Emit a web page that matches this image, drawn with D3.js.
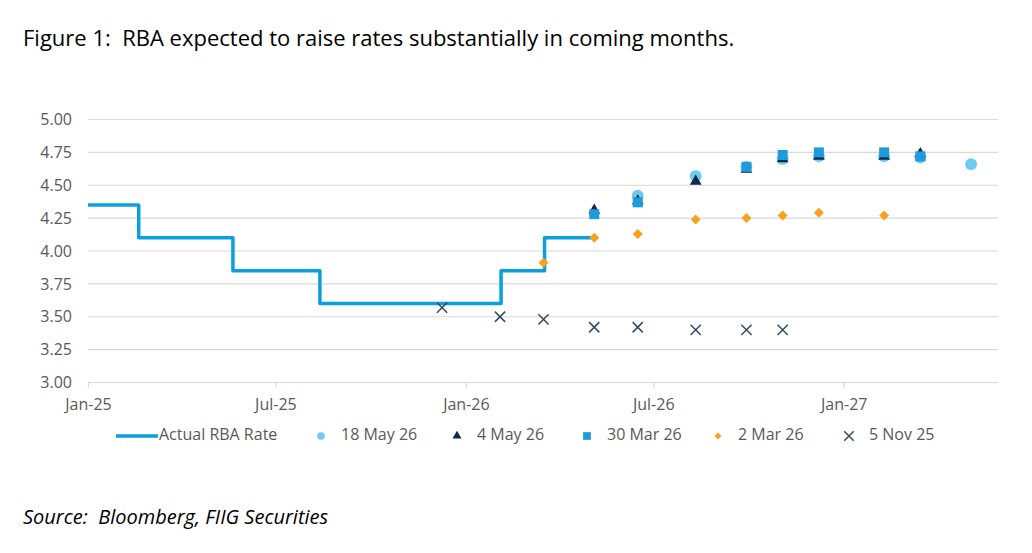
<!DOCTYPE html>
<html>
<meta charset="utf-8">
<style>
  body { margin: 0; background: #fff; }
  svg { display: block; }
  text { font-family: 'Open Sans', sans-serif; white-space: pre; }
</style>
<body>
<svg width="1032" height="553"></svg>
<script src="https://d3js.org/d3.v7.min.js"></script>
<script>
    // actual cash rate (step changes)
    let actualDates = ["2025-01-01", "2025-02-19", "2025-05-21", "2025-08-13", "2026-02-04", "2026-03-18", "2026-05-05"];
    let actualRates = [4.35, 4.10, 3.85, 3.60, 3.85, 4.10, 4.10];

    // market pricing at each meeting, by snapshot date
    let may18Dates = ["2026-06-16", "2026-08-11", "2026-09-29", "2026-11-03", "2026-12-08", "2027-02-09", "2027-03-16", "2027-05-04"];
    let may18Rates = [4.42, 4.57, 4.64, 4.70, 4.72, 4.72, 4.71, 4.66];

    let may4Dates = ["2026-05-05", "2026-06-16", "2026-08-11", "2026-09-29", "2026-11-03", "2026-12-08", "2027-02-09", "2027-03-16"];
    let may4Rates = [4.31, 4.38, 4.53, 4.62, 4.70, 4.72, 4.72, 4.74];

    let mar30Dates = ["2026-05-05", "2026-06-16", "2026-09-29", "2026-11-03", "2026-12-08", "2027-02-09", "2027-03-16"];
    let mar30Rates = [4.28, 4.37, 4.64, 4.73, 4.75, 4.75, 4.72];

    let mar2Dates = ["2026-03-17", "2026-05-05", "2026-06-16", "2026-08-11", "2026-09-29", "2026-11-03", "2026-12-08", "2027-02-09"];
    let mar2Rates = [3.91, 4.10, 4.13, 4.24, 4.25, 4.27, 4.29, 4.27];

    let nov5Dates = ["2025-12-09", "2026-02-03", "2026-03-17", "2026-05-05", "2026-06-16", "2026-08-11", "2026-09-29", "2026-11-03"];
    let nov5Rates = [3.57, 3.50, 3.48, 3.42, 3.42, 3.40, 3.40, 3.40];

    let yTicks = [3.00, 3.25, 3.50, 3.75, 4.00, 4.25, 4.50, 4.75, 5.00];
    let xTicks = ["2025-01-01", "2025-07-01", "2026-01-01", "2026-07-01", "2027-01-01"];

    let seriesNames = ["18 May 26", "4 May 26", "30 Mar 26", "2 Mar 26", "5 Nov 25"];

    let parse = d3.timeParse("%Y-%m-%d");
    let zip = (ds, vs) => ds.map((d, i) => ({date: parse(d), value: vs[i]}));

    let svg = d3.select("svg");

    let plotLeft = 88, plotRight = 998, plotTop = 119.5, plotBottom = 382.5;

    let xScale = d3.scaleTime()
        .domain([parse("2025-01-01"), parse("2027-05-30")])
        .range([plotLeft, plotRight]);
    let yScale = d3.scaleLinear()
        .domain([3, 5])
        .range([plotBottom, plotTop]);

    // title + source
    svg.append("text").attr("x", 23).attr("y", 46)
        .style("font-size", "22px").style("fill", "#000")
        .text("Figure 1:  RBA expected to raise rates substantially in coming months.");
    svg.append("text").attr("x", 23).attr("y", 524)
        .style("font-size", "20px").style("font-style", "italic").style("fill", "#000")
        .text("Source:  Bloomberg, FIIG Securities");

    // gridlines
    svg.append("g").selectAll("line")
        .data(yTicks.slice(1))
        .join("line")
        .attr("x1", plotLeft).attr("x2", plotRight)
        .attr("y1", d => yScale(d)).attr("y2", d => yScale(d))
        .style("stroke", "#d9d9d9").style("stroke-width", 1.2);

    // y axis labels
    let yAxis = svg.append("g")
        .attr("transform", "translate(" + plotLeft + ",0)")
        .call(d3.axisLeft(yScale).tickValues(yTicks).tickFormat(d3.format(".2f")).tickSize(0).tickPadding(16));
    yAxis.select(".domain").remove();

    // x axis
    let xAxis = svg.append("g")
        .attr("transform", "translate(0," + yScale(3) + ")")
        .call(d3.axisBottom(xScale).tickValues(xTicks.map(parse)).tickFormat(d3.timeFormat("%b-%y")).tickSize(5).tickPadding(11));
    xAxis.select(".domain").attr("d", "M" + plotLeft + ",0H" + plotRight).style("stroke", "#d9d9d9").style("stroke-width", 1.2);
    xAxis.selectAll(".tick line").style("stroke", "#d9d9d9").style("stroke-width", 1.2);

    svg.selectAll(".tick text")
        .attr("font-family", null)
        .style("font-family", "'Open Sans', sans-serif")
        .style("font-size", "16px")
        .style("fill", "#595959");

    // actual rate step line
    let stepLine = d3.line()
        .x(d => xScale(d.date))
        .y(d => yScale(d.value))
        .curve(d3.curveStepAfter);
    svg.append("path")
        .datum(zip(actualDates, actualRates))
        .attr("d", stepLine)
        .style("fill", "none").style("stroke", "#0aa0e0").style("stroke-width", 3.5)
        .style("stroke-linejoin", "round");

    let colors = {
        "18 May 26": "#6ccbef",
        "4 May 26": "#10294a",
        "30 Mar 26": "#1f9bdc",
        "2 Mar 26": "#f7a11c",
        "5 Nov 25": "#2f4c66"
    };

    let shapeType = {
        "18 May 26": d3.symbolCircle,
        "4 May 26": d3.symbolTriangle,
        "30 Mar 26": d3.symbolSquare,
        "2 Mar 26": d3.symbolSquare,   // rotated 45deg below
        "5 Nov 25": d3.symbolTimes
    };
    let shapeSize = {"18 May 26": 110, "4 May 26": 60, "30 Mar 26": 100, "2 Mar 26": 50, "5 Nov 25": 70};
    let legendSize = {"18 May 26": 45, "4 May 26": 35, "30 Mar 26": 60, "2 Mar 26": 24, "5 Nov 25": 60};

    let seriesData = {
        "18 May 26": zip(may18Dates, may18Rates),
        "4 May 26": zip(may4Dates, may4Rates),
        "30 Mar 26": zip(mar30Dates, mar30Rates),
        "2 Mar 26": zip(mar2Dates, mar2Rates),
        "5 Nov 25": zip(nov5Dates, nov5Rates)
    };

    function styleMark(sel, name) {
        if (name == "5 Nov 25") {
            sel.style("fill", "none").style("stroke", colors[name]).style("stroke-width", 1.5);
        } else {
            sel.style("fill", colors[name]);
        }
    }
    let rot = name => name == "2 Mar 26" ? " rotate(45)" : "";

    seriesNames.forEach(function(name) {
        let g = svg.append("g");
        g.selectAll("path")
            .data(seriesData[name])
            .join("path")
            .attr("d", d3.symbol(shapeType[name], shapeSize[name]))
            .attr("transform", d => "translate(" + xScale(d.date) + "," + yScale(d.value) + ")" + rot(name))
            .call(styleMark, name);
    });

    // legend
    let legendY = 436;
    let legend = svg.append("g").style("font-size", "16px");
    legend.append("line").attr("x1", 116).attr("x2", 158).attr("y1", legendY).attr("y2", legendY)
        .style("stroke", "#0aa0e0").style("stroke-width", 3.5);
    legend.append("text").attr("x", 159).attr("y", legendY).attr("dominant-baseline", "middle")
        .style("fill", "#595959").text("Actual RBA Rate");

    let legendX = [321, 457, 587, 718, 849];
    seriesNames.forEach(function(name, i) {
        legend.append("path")
            .attr("d", d3.symbol(shapeType[name], legendSize[name]))
            .attr("transform", "translate(" + legendX[i] + "," + legendY + ")" + rot(name))
            .call(styleMark, name);
        legend.append("text").attr("x", legendX[i] + 20).attr("y", legendY).attr("dominant-baseline", "middle")
            .style("fill", "#595959").text(name);
    });
</script>
</body>
</html>
